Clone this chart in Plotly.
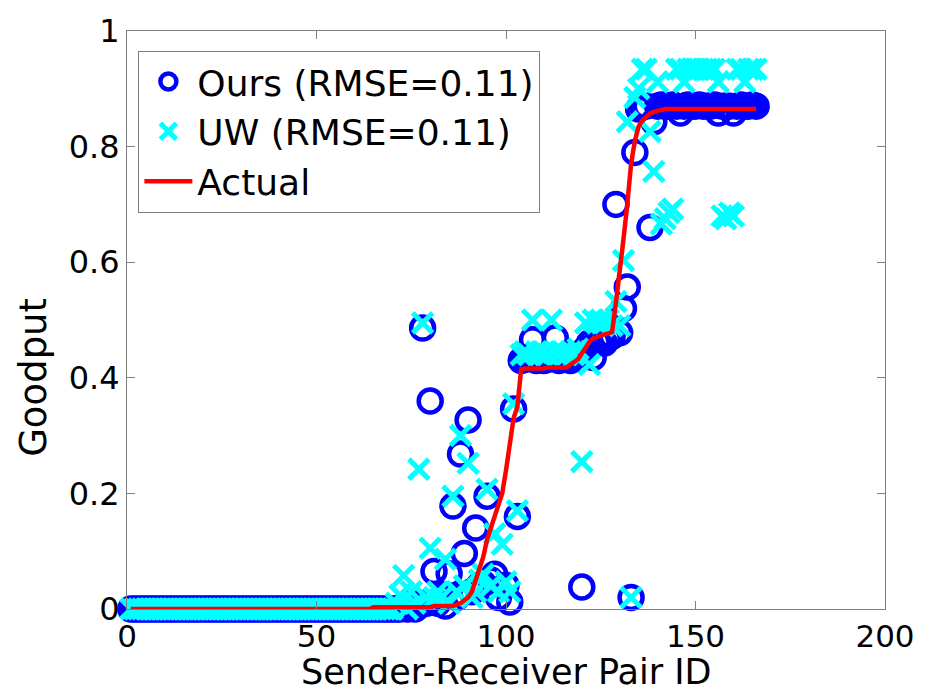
import plotly.graph_objects as go

pair_id = list(range(1, 167))

actual = (
    [0.0] * 64
    + [0.003] * 16
    + [0.005] * 6
    + [0.008, 0.01, 0.015, 0.02, 0.03, 0.05, 0.07, 0.09, 0.12, 0.14, 0.16, 0.18, 0.20,
       0.24, 0.29, 0.33, 0.35, 0.415]
    + [0.416] * 6
    + [0.418] * 6
    + [0.423, 0.427, 0.432, 0.442, 0.452, 0.462, 0.468, 0.471, 0.473, 0.475, 0.477, 0.479,
       0.53, 0.58, 0.64, 0.70, 0.77, 0.81, 0.835, 0.845, 0.852, 0.857, 0.86, 0.862]
    + [0.865] * 26
)

ours = (
    [0.0] * 70
    + [0.0, 0.0, 0.005, 0.0, 0.01, 0.0, 0.005, 0.486, 0.01, 0.36,
       0.065, 0.01, 0.02, 0.005, 0.061, 0.178, 0.02, 0.268, 0.096, 0.327,
       0.03, 0.14, 0.041, 0.044, 0.195, 0.05, 0.06, 0.02, -0.002, 0.041,
       0.012, 0.346, 0.16]
    + [0.43, 0.432, 0.435, 0.466, 0.43, 0.435, 0.43, 0.432, 0.435, 0.469,
       0.43, 0.432, 0.435, 0.43, 0.438, 0.44, 0.038, 0.45, 0.46, 0.435,
       0.462, 0.465, 0.46, 0.468, 0.472]
    + [0.70, 0.478, 0.52, 0.557, 0.02, 0.79, 0.865, 0.87, 0.87, 0.66,
       0.843, 0.87, 0.872, 0.87, 0.87, 0.872, 0.87, 0.858, 0.87, 0.872,
       0.87, 0.87, 0.872, 0.87, 0.87, 0.87, 0.872, 0.858, 0.87, 0.87,
       0.87, 0.858, 0.87, 0.872, 0.87, 0.87, 0.872, 0.87]
)

uw = (
    [0.0] * 70
    + [0.01, 0.024, 0.058, 0.0, 0.03, 0.01, 0.242, 0.495, 0.02, 0.105,
       0.02, 0.03, 0.02, 0.086, 0.01, 0.195, 0.03, 0.30, 0.04, 0.252,
       0.02, 0.03, 0.05, 0.06, 0.207, 0.04, 0.13, 0.03, 0.112, 0.047,
       0.03, 0.355, 0.17]
    + [0.44, 0.445, 0.44, 0.50, 0.445, 0.44, 0.445, 0.44, 0.50, 0.445,
       0.44, 0.445, 0.44, 0.445, 0.44, 0.45, 0.255, 0.495, 0.423, 0.50,
       0.495, 0.50, 0.495, 0.50, 0.49]
    + [0.532, 0.49, 0.603, 0.843, 0.02, 0.885, 0.90, 0.934, 0.934, 0.826,
       0.757, 0.912, 0.666, 0.675, 0.686, 0.692, 0.934, 0.934, 0.912, 0.934,
       0.934, 0.934, 0.934, 0.934, 0.934, 0.934, 0.934, 0.912, 0.68, 0.675,
       0.685, 0.68, 0.934, 0.934, 0.912, 0.934, 0.934, 0.934]
)

x_ticks = [0, 50, 100, 150, 200]
y_ticks = [0, 0.2, 0.4, 0.6, 0.8, 1]
y_tick_text = ["0", "0.2", "0.4", "0.6", "0.8", "1"]
x_title = "Sender-Receiver Pair ID"
y_title = "Goodput"

font_family = "DejaVu Sans, Liberation Sans, Arial, sans-serif"
axis_color = "#7f7f7f"

fig = go.Figure()
fig.add_trace(go.Scatter(
    x=pair_id, y=ours, mode="markers", name="Ours (RMSE=0.11)", cliponaxis=False,
    marker=dict(symbol="circle-open", size=23, color="#0000ff",
                line=dict(width=4.5, color="#0000ff")),
))
fig.add_trace(go.Scatter(
    x=pair_id, y=uw, mode="markers", name="UW (RMSE=0.11)", cliponaxis=False,
    marker=dict(symbol="x-thin-open", size=20, color="#00ffff",
                line=dict(width=5, color="#00ffff")),
))
fig.add_trace(go.Scatter(
    x=pair_id, y=actual, mode="lines", name="Actual", cliponaxis=False,
    line=dict(color="#ff0000", width=4.5),
))

fig.add_annotation(
    text=y_title, textangle=-90, xref="paper", yref="y",
    x=0, y=0.4, xanchor="center", yanchor="middle", xshift=-93,
    showarrow=False, font=dict(size=37),
)
fig.add_annotation(
    text=x_title, xref="paper", yref="paper",
    x=0.5, y=0, xanchor="center", yanchor="bottom", yshift=-85,
    showarrow=False, font=dict(size=35),
)

fig.update_layout(
    width=936, height=695,
    margin=dict(l=127, r=51, t=25, b=86),
    paper_bgcolor="white", plot_bgcolor="white",
    font=dict(family=font_family, size=31, color="black"),
    showlegend=True,
    legend=dict(
        x=0.015, y=0.966, xanchor="left", yanchor="top",
        bgcolor="white", bordercolor=axis_color, borderwidth=1,
        font=dict(size=36), itemwidth=48, tracegroupgap=0,
    ),
    xaxis=dict(
        range=[0, 200], tickvals=x_ticks, ticks="inside", ticklen=8,
        tickcolor=axis_color, showline=True, linecolor=axis_color, linewidth=1,
        mirror="ticks", showgrid=False, zeroline=False,
        tickfont=dict(size=31),
    ),
    yaxis=dict(
        range=[0, 1], tickvals=y_ticks, ticktext=y_tick_text, ticks="inside", ticklen=8,
        tickcolor=axis_color, showline=True, linecolor=axis_color, linewidth=1,
        mirror="ticks", showgrid=False, zeroline=False,
        tickfont=dict(size=32),
    ),
)

fig.write_html("out.html")
